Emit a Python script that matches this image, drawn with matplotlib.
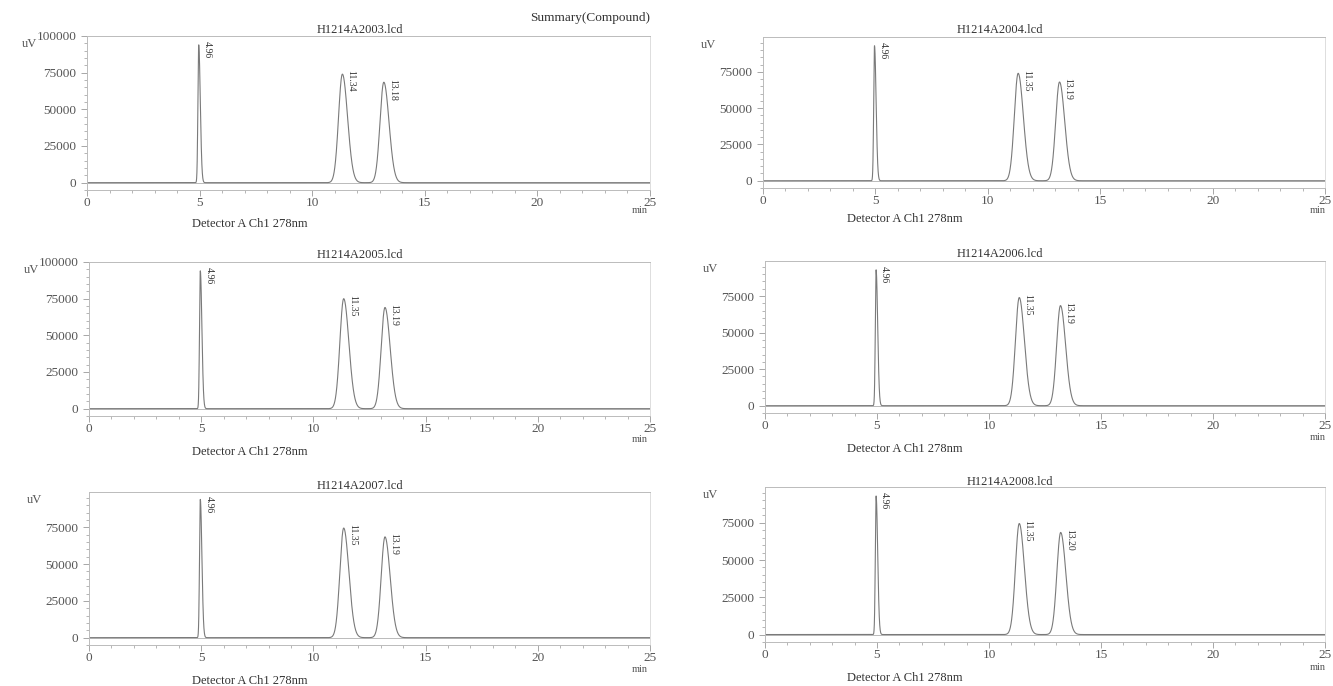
import numpy as np
import matplotlib
matplotlib.use("Agg")
import matplotlib.pyplot as plt
from matplotlib.ticker import MultipleLocator, FixedLocator

# ---- data ----
files = ["H1214A2003.lcd", "H1214A2004.lcd", "H1214A2005.lcd",
         "H1214A2006.lcd", "H1214A2007.lcd", "H1214A2008.lcd"]
peak_times = [[4.96, 11.34, 13.18],
              [4.96, 11.35, 13.19],
              [4.96, 11.35, 13.19],
              [4.96, 11.35, 13.19],
              [4.96, 11.35, 13.19],
              [4.96, 11.35, 13.20]]
peak_labels = [["4.96", "11.34", "13.18"],
               ["4.96", "11.35", "13.19"],
               ["4.96", "11.35", "13.19"],
               ["4.96", "11.35", "13.19"],
               ["4.96", "11.35", "13.19"],
               ["4.96", "11.35", "13.20"]]
peak_heights = [[94000, 74000, 68500],
                [93000, 74000, 68000],
                [94000, 75000, 69000],
                [93000, 74000, 68500],
                [94000, 74500, 68500],
                [93000, 74500, 68500]]
# left/right half-widths (sigma, min) of each peak
peak_sig_l = [0.035, 0.17, 0.17]
peak_sig_r = [0.07, 0.23, 0.23]
xticks = [0, 5, 10, 15, 20, 25]
yticks_full = [0, 25000, 50000, 75000, 100000]
yticks_short = [0, 25000, 50000, 75000]
show_100k = [True, False, True, False, False, False]
xlabel = "Detector A Ch1 278nm"
suptitle = "Summary(Compound)"

W, H = 1333, 686
fig = plt.figure(figsize=(W / 100, H / 100), dpi=100)
fig.patch.set_facecolor("white")
plt.rcParams["font.family"] = ["Liberation Serif", "DejaVu Serif"]

def fx(px):
    return px / W

def fy(py):
    return 1 - py / H

# axes boxes in pixels: left, right, top, bottom
boxes = [(87, 650, 36, 190), (763, 1325, 37, 188),
         (89, 650, 262, 416), (765, 1325, 261, 413),
         (89, 650, 492, 645), (765, 1325, 487, 642)]
title_pos = [(360, 30), (1000, 30), (360, 255), (1000, 254), (360, 486), (1010, 482)]
xlabel_pos = [(250, 224), (905, 219), (250, 452), (905, 449), (250, 681), (905, 678)]
min_pos = [(640, 211), (1318, 211), (640, 439), (1318, 438), (640, 669), (1318, 667)]

t = np.linspace(0, 25, 6000)
tick_col = "#555555"
ax_col = "#999999"

for i in range(6):
    l, r, tp, bt = boxes[i]
    ax = fig.add_axes([fx(l), fy(bt), fx(r - l), (bt - tp) / H])
    ytop = 100000 if show_100k[i] else 99000
    ax.set_xlim(0, 25)
    ax.set_ylim(-5000, ytop)
    sig = np.zeros_like(t)
    for tm, h, sl, sr in zip(peak_times[i], peak_heights[i], peak_sig_l, peak_sig_r):
        s = np.where(t < tm, sl, sr)
        sig += h * np.exp(-0.5 * ((t - tm) / s) ** 2)
    ax.plot(t, sig, color="#7a7a7a", lw=0.8)
    ax.axhline(0, color="#b0b0b0", lw=0.6, zorder=0)
    for tm, h, lab in zip(peak_times[i], peak_heights[i], peak_labels[i]):
        ax.text(tm + 0.18, h + 2500, lab, rotation=-90, va="top", ha="left",
                fontsize=7, color="#333333")
    ax.xaxis.set_major_locator(FixedLocator(xticks))
    ax.xaxis.set_minor_locator(MultipleLocator(1))
    ax.yaxis.set_major_locator(FixedLocator(yticks_full if show_100k[i] else yticks_short))
    ax.yaxis.set_minor_locator(MultipleLocator(5000))
    ax.tick_params(axis="both", which="major", labelsize=9.5, colors=ax_col,
                   labelcolor=tick_col, length=4, width=0.6)
    ax.tick_params(axis="both", which="minor", colors=ax_col, length=2, width=0.5)
    ax.tick_params(axis="x", which="major", pad=1)
    for sp in ax.spines.values():
        sp.set_color("#bbbbbb")
        sp.set_linewidth(0.7)
    ax.spines["right"].set_color("#dddddd")
    fig.text(fx(title_pos[i][0]), fy(title_pos[i][1]), files[i], ha="center",
             va="center", fontsize=9, color="#333333")
    fig.text(fx(xlabel_pos[i][0]), fy(xlabel_pos[i][1]), xlabel, ha="center",
             va="center", fontsize=9, color="#333333")
    fig.text(fx(min_pos[i][0]), fy(min_pos[i][1]), "min", ha="center",
             va="center", fontsize=7.5, color="#555555")
    fig.text(fx(l - 65 if show_100k[i] else l - 62), fy(tp + 8), "uV", ha="left",
             va="center", fontsize=9, color="#555555")

fig.text(fx(590), fy(18), suptitle, ha="center", va="center", fontsize=9.5,
         color="#333333")

fig.savefig("out.png", dpi=100, facecolor="white")
